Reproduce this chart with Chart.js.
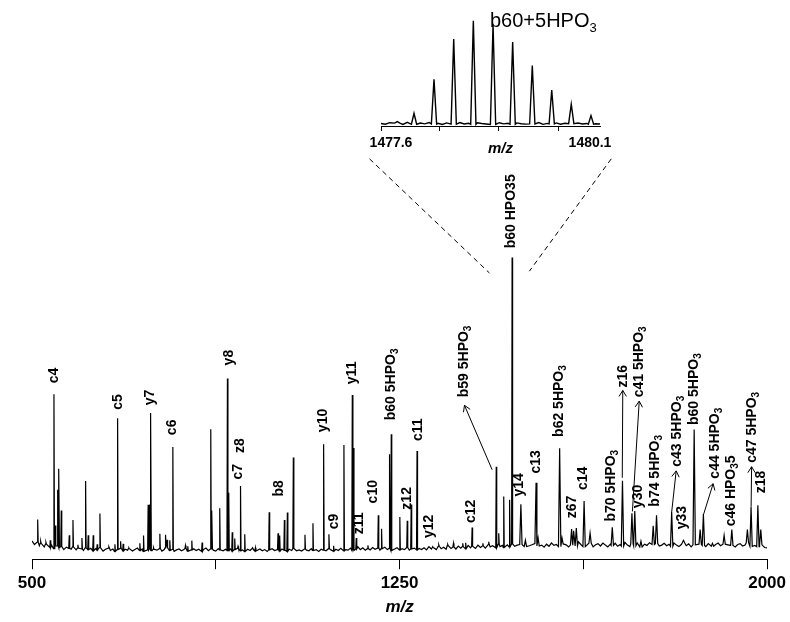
<!DOCTYPE html>
<html>
<head>
<meta charset="utf-8">
<script src="https://cdn.jsdelivr.net/npm/chart.js@4.4.1/dist/chart.umd.min.js"></script>
<style>
body { margin: 0; background: #fff; }
#wrap { position: relative; width: 790px; height: 622px; }
#main { position: absolute; left: 0; top: 0; }
#inset { position: absolute; left: 355px; top: 0; }
</style>
</head>
<body>
<div id="wrap">
  <canvas id="main" width="790" height="622"></canvas>
  <canvas id="inset" width="270" height="170"></canvas>
</div>
<script>
const FONT = '"Liberation Sans", Arial, sans-serif';

// x axis
const xTicks = [500, 875, 1250, 1625, 2000];
const xTickLabels = ['500', '', '1250', '', '2000'];

// baseline noise, sampled every 5 m/z from 500
const baseStart = 500, baseStep = 5;
const baseNoise = [
  3.8,2.6,3.4,2.2,3.0,1.8,2.7,1.6,2.4,1.2,2.1,1.5,1.9,0.9,1.7,1.3,1.0,1.8,0.8,1.4,
  1.1,0.6,1.5,0.9,1.3,0.5,1.2,0.8,1.6,0.4,1.0,1.4,0.6,1.1,0.3,0.9,1.3,0.5,1.0,0.7,
  1.2,0.4,0.9,1.4,0.6,1.1,0.3,0.8,1.3,0.5,1.0,0.7,1.2,0.4,0.9,1.5,0.6,1.0,0.3,0.8,
  1.1,0.5,0.9,1.3,0.4,0.8,1.2,0.6,1.0,0.3,0.9,1.4,0.5,1.1,0.7,0.4,1.2,0.8,0.5,1.0,
  0.6,1.1,0.4,0.9,1.3,0.5,0.8,0.3,1.0,0.6,1.2,0.4,0.7,1.1,0.5,0.9,0.3,0.8,1.2,0.6,
  0.9,0.4,1.1,0.7,0.3,1.0,0.6,1.3,0.5,0.8,0.4,1.1,0.7,0.5,1.2,0.6,0.9,0.3,1.0,0.7,
  0.5,1.2,0.8,0.4,1.0,0.6,1.3,0.5,0.9,0.7,1.4,0.6,1.1,1.8,0.9,1.5,0.7,1.2,0.8,1.6,
  1.0,1.4,0.7,1.2,1.7,0.9,1.3,0.6,1.1,1.5,0.8,1.2,0.9,1.6,0.7,1.1,1.4,0.8,1.3,0.9,
  1.5,0.8,1.9,1.1,1.6,0.9,2.0,1.2,1.7,1.0,2.2,1.3,1.8,1.1,2.1,1.4,1.9,1.2,2.3,1.5,
  2.0,1.3,2.4,1.6,2.1,1.4,2.6,1.8,2.2,1.5,2.7,1.9,2.3,1.6,2.5,1.8,2.8,2.0,2.4,1.7,
  2.6,1.9,3.0,2.2,2.5,1.8,2.9,2.1,2.4,1.7,2.7,2.0,3.1,2.3,2.6,1.9,2.8,2.2,2.5,1.8,
  2.4,3.2,2.1,3.5,2.6,1.9,2.8,2.2,3.0,1.8,2.5,2.9,2.1,3.1,2.4,1.8,2.7,2.3,3.0,2.0,
  2.6,2.1,3.3,2.4,1.9,2.8,2.2,3.1,2.5,1.8,2.7,2.3,3.2,2.0,2.6,2.9,2.1,2.4,3.0,2.2,
  2.7,2.0,3.1,2.4,1.9,2.6,3.2,2.2,2.8,1.8,2.5,3.0,2.1,2.7,2.3,1.9,2.9,2.4,2.0,2.6,
  3.1,2.2,2.7,1.9,2.5,3.0,2.3,1.8,2.6,2.9,2.1,2.4,3.2,2.0,2.7,2.3,1.9,2.5,2.2,1.6,
  1.5
];

// peaks (m/z, relative intensity)
const peakMz = [
  511.6,517.7,528.5,537.3,544.8,547.5,552.4,555.0,559.7,576.0,583.6,593.7,601.9,609.4,614.7,624.9,633.0,638.6,
  656.9,669.2,674.7,680.8,686.1,697.7,720.1,727.6,737.0,740.5,742.5,748.0,760.9,772.5,775.7,781.2,787.4,
  813.2,817.9,826.1,847.1,864.8,867.2,883.1,898.8,901.5,908.6,913.7,920.4,925.5,934.1,949.8,955.9,
  984.0,1002.0,1005.4,1015.0,1021.1,1033.3,1057.0,1073.3,1095.1,1105.9,1115.5,1136.5,1153.6,1156.0,1161.7,
  1185.4,1206.6,1213.3,1229.6,1233.1,1250.6,1265.7,1273.8,1285.7,1317.8,1330.0,1348.4,1360.0,1379.0,1385.0,
  1398.1,1420.0,1432.0,1447.3,1452.4,1462.6,1474.6,1479.7,1497.6,1506.8,1528.6,1532.7,1576.7,1581.5,
  1601.1,1605.2,1610.7,1626.6,1638.8,1684.1,1704.9,1724.2,1730.0,1742.6,1767.6,1774.4,1805.3,1829.4,
  1851.2,1863.4,1870.0,1888.5,1912.3,1928.0,1959.8,1967.3,1981.2,1987.1
];
const peakInt = [
  11,3.7,3.3,4,53,9,21,28,14,5.7,10.8,2.5,4.8,23.9,5.7,5.7,2.7,13,
  1.8,2.7,45,3.7,2.8,1.5,3,5.6,15.9,16,46.7,1.5,6.2,5.9,4.2,4,35.3,
  2.3,2,3.9,3.3,41.3,14,14.8,58.3,20,6.7,4.6,2,22.2,6,1.5,1.5,
  13.4,6.4,5.6,10.8,13.3,31.8,5.9,9.7,36.2,6,2.2,36,52.8,35,4.8,
  2.3,12.4,7.9,32.9,39.6,11.8,10.6,16,34,1.8,2.5,2.6,3,3,3.2,
  8.3,3,3.5,28.7,6.4,18.7,17.6,98.9,16.1,4,23.3,4.8,34.9,4.8,
  7.8,7.2,8.1,17.2,6.4,8.4,24,13.1,13.8,3.7,8.9,12.4,13.5,4,
  41.2,7.6,12.8,3,5.7,7.6,7.6,15.3,15.8,7.6
];

// peak annotations: text ({n} = subscript), m/z, intensity where the text starts
const labelText = ['c4','c5','y7','c6','y8','c7','z8','b8','y10','c9','y11','z11','c10','b60 5HPO{3}','z12','c11','y12',
  'b59 5HPO{3}','c12','b60 HPO35','y14','c13','b62 5HPO{3}','z67','c14','b70 5HPO{3}','z16','y30','c41 5HPO{3}',
  'b74 5HPO{3}','c43 5HPO{3}','y33','b60 5HPO{3}','c44 5HPO{3}','c46 HPO{3}5','c47 5HPO{3}','z18'];
const labelMz = [545.4,675.3,740.5,786.7,901.5,920.4,925.3,1004,1095.1,1117.5,1153.6,1168.5,1197,1233.1,1264.9,1288.7,1309.7,
  1382.4,1396.1,1478.2,1494.5,1528.6,1576.1,1601.9,1625.6,1682,1705.5,1737.7,1739.1,
  1771.7,1816.5,1827.3,1851.2,1894,1926,1969.4,1987.1];
const labelInt = [56.7,47.8,49.3,39.3,62.7,24.4,33.3,18.7,40.3,7.7,56.4,6,16.4,44.3,14.3,37.3,4.8,
  52,9.8,102,18.7,26.4,38.7,11.4,20.9,10.3,55.3,14.8,52,
  15.3,28.7,7.7,42.7,24.7,8.7,30,19.8];

// arrows from peak to label
const arrowFromMz = [1438.9,1704.5,1725.2,1805.3,1870.6,1967.4];
const arrowFromInt = [27.7,25,13.7,13.5,12.8,15.3];
const arrowToMz = [1382.5,1705.5,1739.1,1814.5,1889.9,1968.4];
const arrowToInt = [49.3,54.3,50.7,27.3,23,28.7];

// dashed zoom lines (m/z, intensity)
const zoomLeftMz = [1188.8, 1433.4], zoomLeftInt = [132, 93.7];
const zoomRightMz = [1682, 1514.9], zoomRightInt = [132, 94.3];

// inset
const insetMin = 1477.6, insetMax = 1480.1;
const insetTicks = [1477.6, 1478.27, 1478.945, 1479.63];
const insetPeakMz = [1477.786,1477.977,1478.205,1478.43,1478.654,1478.879,1479.103,1479.327,1479.549,1479.772,1479.997];
const insetPeakInt = [3.2,11.2,43.8,82.3,100,96.5,79.5,57,33.6,19.9,9.0];
const insetStep = 0.05;
const insetNoise = [1.5,0.8,2.2,1.0,1.8,0.6,2.5,1.2,0.7,1.9,1.1,2.4,0.9,1.6,0.5,2.0,1.3,0.8,2.3,1.0,
  1.7,0.6,2.1,1.4,0.9,1.8,0.5,2.2,1.1,1.6,0.7,2.0,1.2,0.8,1.9,1.0,2.3,0.6,1.5,1.1,
  2.0,0.8,1.7,1.3,0.6,1.9,1.0,1.5,0.7,1.2,0.9];

function buildTrace(start, step, noise, mzs, ints, halfWidth) {
  const pts = [];
  noise.forEach((v, i) => {
    const x = start + i * step;
    const near = mzs.some(m => Math.abs(m - x) < halfWidth(m) + step * 0.3);
    if (!near) pts.push({ x: x, y: v });
  });
  mzs.forEach((m, k) => {
    const hw = halfWidth(m);
    const idx = Math.min(noise.length - 1, Math.max(0, Math.round((m - start) / step)));
    const foot = noise[idx];
    pts.push({ x: m - hw, y: foot }, { x: m, y: ints[k] }, { x: m + hw, y: foot });
  });
  return pts.sort((a, b) => a.x - b.x);
}

const spectrum = buildTrace(baseStart, baseStep, baseNoise, peakMz, peakInt, m => (m > 1490 ? 2.4 : 1.0));
const insetTrace = buildTrace(insetMin, insetStep, insetNoise, insetPeakMz, insetPeakInt, () => 0.03);

function drawRich(ctx, text, size, subSize, subShift) {
  let cx = 0;
  text.split(/(\{[^}]*\})/).forEach(p => {
    if (!p) return;
    if (p[0] === '{') {
      const s = p.slice(1, -1);
      ctx.font = 'bold ' + subSize + 'px ' + FONT;
      ctx.fillText(s, cx, subShift);
      cx += ctx.measureText(s).width;
    } else {
      ctx.font = 'bold ' + size + 'px ' + FONT;
      ctx.fillText(p, cx, 0);
      cx += ctx.measureText(p).width;
    }
  });
}

const annotationPlugin = {
  id: 'annotations',
  afterDatasetsDraw(chart) {
    const ctx = chart.ctx, xs = chart.scales.x, ys = chart.scales.y;
    ctx.save();
    ctx.fillStyle = '#000';
    ctx.strokeStyle = '#000';
    ctx.lineWidth = 1;
    labelText.forEach((t, i) => {
      ctx.save();
      ctx.translate(xs.getPixelForValue(labelMz[i]), ys.getPixelForValue(labelInt[i]));
      ctx.rotate(-Math.PI / 2);
      ctx.textAlign = 'left';
      ctx.textBaseline = 'middle';
      drawRich(ctx, t, 14, 10, 4);
      ctx.restore();
    });
    arrowFromMz.forEach((m, i) => {
      const x1 = xs.getPixelForValue(m), y1 = ys.getPixelForValue(arrowFromInt[i]);
      const x2 = xs.getPixelForValue(arrowToMz[i]), y2 = ys.getPixelForValue(arrowToInt[i]);
      const a = Math.atan2(y2 - y1, x2 - x1), L = 7, w = 0.55;
      ctx.beginPath();
      ctx.moveTo(x1, y1);
      ctx.lineTo(x2, y2);
      ctx.moveTo(x2 - L * Math.cos(a - w), y2 - L * Math.sin(a - w));
      ctx.lineTo(x2, y2);
      ctx.lineTo(x2 - L * Math.cos(a + w), y2 - L * Math.sin(a + w));
      ctx.stroke();
    });
    ctx.restore();
  }
};

const insetTextPlugin = {
  id: 'insetText',
  afterDraw(chart) {
    const ctx = chart.ctx, xs = chart.scales.x;
    ctx.save();
    ctx.fillStyle = '#000';
    ctx.textBaseline = 'alphabetic';
    ctx.textAlign = 'left';
    ctx.save();
    ctx.translate(135, 27);
    ctx.font = '20px ' + FONT;
    ctx.fillText('b60+5HPO', 0, 0);
    const cx = ctx.measureText('b60+5HPO').width;
    ctx.font = '13px ' + FONT;
    ctx.fillText('3', cx, 5);
    ctx.restore();
    ctx.textAlign = 'center';
    ctx.textBaseline = 'middle';
    ctx.font = 'bold 14px ' + FONT;
    ctx.fillText('1477.6', xs.left + 10, 143);
    ctx.fillText('1480.1', xs.right - 10, 143);
    ctx.font = 'italic bold 15px ' + FONT;
    ctx.fillText('m/z', (xs.left + xs.right) / 2 + 10, 149);
    ctx.restore();
  }
};

const toPoints = (xs, ys) => xs.map((x, i) => ({ x: x, y: ys[i] }));

new Chart(document.getElementById('main'), {
  type: 'scatter',
  data: {
    datasets: [
      { data: spectrum, showLine: true, borderColor: '#000', borderWidth: 1.2, pointRadius: 0 },
      { data: toPoints(zoomLeftMz, zoomLeftInt), showLine: true, borderColor: '#000', borderWidth: 1, borderDash: [5, 4], pointRadius: 0 },
      { data: toPoints(zoomRightMz, zoomRightInt), showLine: true, borderColor: '#000', borderWidth: 1, borderDash: [5, 4], pointRadius: 0 }
    ]
  },
  options: {
    responsive: false,
    animation: false,
    events: [],
    layout: { padding: { left: 32, right: 22, top: 0, bottom: 4 } },
    plugins: { legend: { display: false }, tooltip: { enabled: false } },
    scales: {
      x: {
        type: 'linear', min: 500, max: 2000,
        afterBuildTicks: s => { s.ticks = xTicks.map(v => ({ value: v })); },
        ticks: {
          callback: (v, i) => xTickLabels[i],
          color: '#000', padding: 4, maxRotation: 0, autoSkip: false,
          font: { family: FONT, size: 17, weight: 'bold', lineHeight: 1.2 }
        },
        grid: { drawOnChartArea: false, drawTicks: true, tickLength: 10, color: '#000' },
        border: { display: true, color: '#000', width: 1 },
        title: {
          display: true, text: 'm/z', color: '#000', padding: { top: 0, bottom: 0 },
          font: { family: FONT, size: 17, style: 'italic', weight: 'bold', lineHeight: 1.2 }
        }
      },
      y: { display: false, min: -2.33, max: 185.3 }
    }
  },
  plugins: [annotationPlugin]
});

new Chart(document.getElementById('inset'), {
  type: 'scatter',
  data: {
    datasets: [
      { data: insetTrace, showLine: true, borderColor: '#000', borderWidth: 1.4, pointRadius: 0 }
    ]
  },
  options: {
    responsive: false,
    animation: false,
    events: [],
    layout: { padding: { left: 26, right: 25, top: 0, bottom: 39 } },
    plugins: { legend: { display: false }, tooltip: { enabled: false } },
    scales: {
      x: {
        type: 'linear', min: insetMin, max: insetMax,
        afterBuildTicks: s => { s.ticks = insetTicks.map(v => ({ value: v })); },
        ticks: { display: false },
        grid: { drawOnChartArea: false, drawTicks: true, tickLength: 5, color: '#000' },
        border: { display: true, color: '#000', width: 1 }
      },
      y: { display: false, min: -0.96, max: 119.8 }
    }
  },
  plugins: [insetTextPlugin]
});
</script>
</body>
</html>
